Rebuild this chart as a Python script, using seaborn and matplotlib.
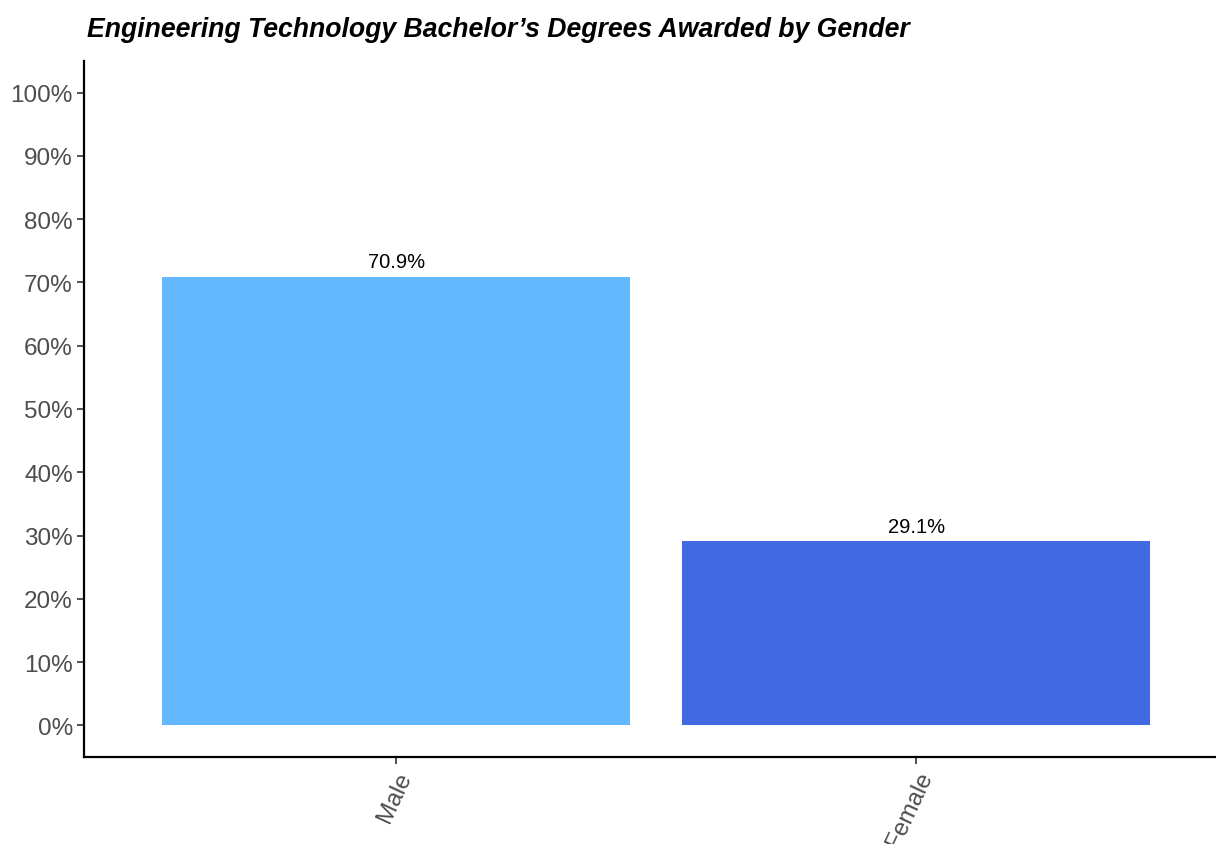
import pandas as pd
import seaborn as sns
import matplotlib.pyplot as plt
from matplotlib.ticker import PercentFormatter

# data
genders = ["Male", "Female"]
shares = [70.9, 29.1]
bar_colors = ["#63B8FF", "#4169E1"]

df = pd.DataFrame({"gender": genders, "share": shares})

sns.set_theme(style="ticks")
plt.rcParams["font.family"] = ["Liberation Sans", "DejaVu Sans"]

fig = plt.figure(figsize=(12.16, 8.45), dpi=100)
ax = fig.add_axes([84 / 1216, 87 / 845, (1228.5 - 84) / 1216, (758 - 62) / 845])

sns.barplot(data=df, x="gender", y="share", hue="gender", palette=bar_colors,
            width=0.9, saturation=1, legend=False, linewidth=0, ax=ax)

# labels above bars
for i, v in enumerate(shares):
    ax.text(i, v + 0.9, f"{v:.1f}%", ha="center", va="bottom", fontsize=14.5, color="black")

ax.set_xlim(-0.6, 1.6)
ax.set_ylim(-5, 105)
ax.set_yticks(range(0, 101, 10))
ax.yaxis.set_major_formatter(PercentFormatter(decimals=0))
ax.set_xlabel("")
ax.set_ylabel("")

for s in ["top", "right"]:
    ax.spines[s].set_visible(False)
for s in ["left", "bottom"]:
    ax.spines[s].set_linewidth(1.6)
    ax.spines[s].set_color("black")

ax.tick_params(axis="both", colors="#333333", labelcolor="#4D4D4D", labelsize=17.5,
               length=5, width=1.2, pad=3)
for lab in ax.get_xticklabels():
    lab.set_rotation(65)
    lab.set_ha("right")
    lab.set_va("top")
    lab.set_rotation_mode("anchor")

fig.text(87 / 1216, 1 - 30 / 845, "Engineering Technology Bachelor’s Degrees Awarded by Gender",
         fontsize=19.2, fontweight="bold", fontstyle="italic", color="black",
         ha="left", va="center")

fig.savefig("out.png", dpi=100)
